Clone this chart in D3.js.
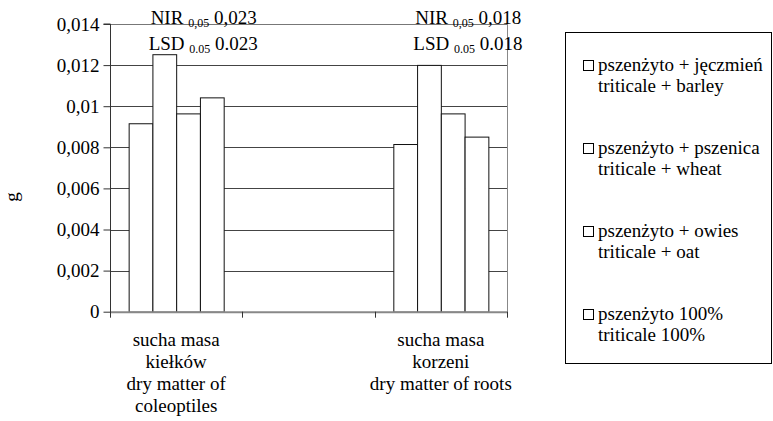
<!DOCTYPE html>
<html>
<head>
<meta charset="utf-8">
<script src="https://cdn.jsdelivr.net/npm/d3@7"></script>
<style>
  html, body { margin: 0; padding: 0; background: #fff; }
  svg { display: block; font-family: "Liberation Serif", "Times New Roman", serif; }
  svg text { fill: #000; }
</style>
</head>
<body>
<svg id="chart" width="773" height="421"></svg>
<script>
// ---- data ----
const categories = ["coleoptiles", "gap", "roots"];
const categoryLines = [
  ["sucha masa", "kiełków", "dry matter of", "coleoptiles"],
  [],
  ["sucha masa", "korzeni", "dry matter of roots"]
];
const seriesPL = ["pszenżyto + jęczmień", "pszenżyto + pszenica", "pszenżyto + owies", "pszenżyto 100%"];
const seriesEN = ["triticale + barley", "triticale + wheat", "triticale + oat", "triticale 100%"];
const coleoptilesValues = [0.00917, 0.01253, 0.00965, 0.01043];
const rootsValues = [0.00816, 0.01201, 0.00965, 0.00852];
const yTickValues = [0, 0.002, 0.004, 0.006, 0.008, 0.01, 0.012, 0.014];
const yTickLabels = ["0", "0,002", "0,004", "0,006", "0,008", "0,01", "0,012", "0,014"];
const nirLabels = [["0,05", "0,023"], null, ["0,05", "0,018"]];
const lsdLabels = [["0.05", "0.023"], null, ["0.05", "0.018"]];
const yTitle = "g";

const groupValues = { coleoptiles: coleoptilesValues, roots: rootsValues };

// ---- layout ----
const svg = d3.select("#chart");
const plot = { left: 110, right: 507, top: 24, bottom: 311.7 };
const FS = 19;
const FONT = '"Liberation Serif", "Times New Roman", serif';

const x = d3.scaleBand().domain(categories).range([plot.left, plot.right]).paddingInner(0).paddingOuter(0);
const xi = d3.scaleBand().domain(d3.range(seriesPL.length))
  .range([0, x.bandwidth()]).paddingInner(0).paddingOuter(0.785);
const y = d3.scaleLinear().domain([0, 0.014]).range([plot.bottom, plot.top]);

// gridlines
svg.append("g").selectAll("line").data(yTickValues.filter(v => v > 0)).join("line")
  .attr("x1", plot.left).attr("x2", plot.right)
  .attr("y1", d => Math.round(y(d)) + 0.5).attr("y2", d => Math.round(y(d)) + 0.5)
  .attr("stroke", d => d === 0.014 ? "#777" : "#444").attr("stroke-width", 1);

// right border
svg.append("line")
  .attr("x1", plot.right + 0.5).attr("x2", plot.right + 0.5)
  .attr("y1", y(0.014)).attr("y2", plot.bottom)
  .attr("stroke", "#888").attr("stroke-width", 1);

// bars
const groups = svg.append("g").selectAll("g")
  .data(categories.filter(c => groupValues[c])).join("g")
  .attr("transform", c => `translate(${x(c)},0)`);
groups.selectAll("rect").data(c => groupValues[c].map((v, i) => ({ v, i }))).join("rect")
  .attr("x", d => xi(d.i) + 0.5)
  .attr("width", xi.bandwidth())
  .attr("y", d => y(d.v) + 0.5)
  .attr("height", d => plot.bottom - y(d.v))
  .attr("fill", "#fff").attr("stroke", "#111").attr("stroke-width", 1);

// x axis line
svg.append("line")
  .attr("x1", plot.left).attr("x2", plot.right + 1)
  .attr("y1", plot.bottom + 0.5).attr("y2", plot.bottom + 0.5)
  .attr("stroke", "#888").attr("stroke-width", 2);

// x ticks (band boundaries)
const xBounds = categories.map(c => x(c)).concat([plot.right]);
svg.append("g").selectAll("line").data(xBounds).join("line")
  .attr("x1", d => Math.round(d) + 0.5).attr("x2", d => Math.round(d) + 0.5)
  .attr("y1", plot.bottom).attr("y2", plot.bottom + 6)
  .attr("stroke", "#333");

// y axis
const yAxis = d3.axisLeft(y).tickValues(yTickValues)
  .tickFormat((d, i) => yTickLabels[i]).tickSize(7).tickPadding(4);
const yg = svg.append("g").attr("transform", `translate(${plot.left + 0.5},0)`).call(yAxis)
  .attr("font-family", FONT);
yg.select(".domain").attr("stroke", "#333").attr("d", `M-7,${y(0.014)}H0V${plot.bottom + 1}`);
yg.selectAll(".tick line").attr("stroke", "#333");
yg.selectAll(".tick text").attr("font-size", FS).attr("font-family", FONT).attr("fill", "#000");

// y title
svg.append("text").attr("transform", "translate(18,197) rotate(-90)")
  .attr("text-anchor", "middle").attr("font-size", FS).text(yTitle);

// category labels
categories.forEach((c, ci) => {
  const cx = x(c) + x.bandwidth() / 2;
  categoryLines[ci].forEach((line, li) => {
    svg.append("text").attr("x", cx).attr("y", 346 + li * 22)
      .attr("text-anchor", "middle").attr("font-size", FS).text(line);
  });
});

// NIR / LSD annotations
function annot(xpos, ypos, head, pair) {
  const t = svg.append("text").attr("x", xpos).attr("y", ypos).attr("font-size", FS);
  t.append("tspan").text(head + " ");
  t.append("tspan").attr("font-size", 12).attr("dy", 3).text(pair[0]);
  t.append("tspan").attr("dy", -3).text(" " + pair[1]);
}
categories.forEach((c, ci) => {
  if (!nirLabels[ci]) return;
  const gx = x(c) + xi(0);
  annot(gx + 22, 24, "NIR", nirLabels[ci]);
  annot(gx + 20, 49.5, "LSD", lsdLabels[ci]);
});

// legend
svg.append("rect").attr("x", 565.5).attr("y", 32.5).attr("width", 206).attr("height", 331)
  .attr("fill", "#fff").attr("stroke", "#000").attr("stroke-width", 1);
const lg = svg.append("g").selectAll("g").data(seriesPL.map((p, i) => ({ p, e: seriesEN[i], i }))).join("g")
  .attr("transform", d => `translate(0,${71 + d.i * 83})`);
lg.append("rect").attr("x", 583.5).attr("y", -10.5).attr("width", 10).attr("height", 10)
  .attr("fill", "#fff").attr("stroke", "#000").attr("stroke-width", 1);
lg.append("text").attr("x", 598).attr("y", 0).attr("font-size", FS).text(d => d.p);
lg.append("text").attr("x", 598).attr("y", 20.5).attr("font-size", FS).text(d => d.e);
</script>
</body>
</html>
